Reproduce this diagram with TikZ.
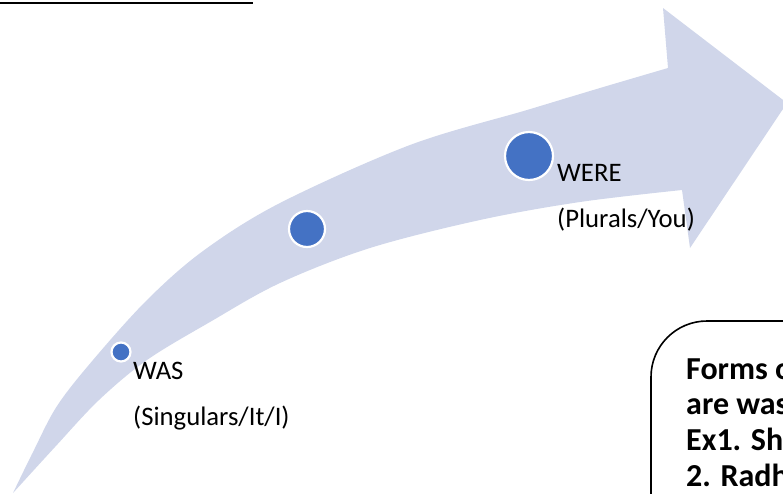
\documentclass[tikz,border=0pt]{standalone}
\usepackage{fontspec}
\setmainfont{Carlito}
\definecolor{bandfill}{HTML}{D0D6EA}
\definecolor{dotblue}{HTML}{4472C4}
\begin{document}
\begin{tikzpicture}[x=1pt,y=-1pt,
  dot/.style={circle,fill=dotblue,draw=white,line width=2.2pt,inner sep=0pt},
  label/.style={anchor=base west,inner sep=0pt,font=\fontsize{26.7}{30}\selectfont},
  boxtext/.style={anchor=base west,inner sep=0pt,font=\fontsize{32}{35}\selectfont\bfseries}]
\useasboundingbox (0,0) rectangle (783,493);
\clip (0,0) rectangle (783,493);

% underline of the heading above
\draw[line width=1.4pt] (0,3) -- (253,3);

% curved arrow
\fill[bandfill]
  plot[smooth,tension=0.55] coordinates {(13,493) (33,452) (57,406) (93,360) (147,300) (203,251) (280,203) (410,145) (527,110) (600,88) (668,68)}
  -- (663,8) -- (787,103) -- (690,248) -- (682,190)
  -- plot[smooth,tension=0.55] coordinates {(682,190) (580,202) (480,220) (370,248) (280,283) (210,322) (147,360) (99,400) (55,447) (13,493)}
  -- cycle;

% markers on the arrow
\node[dot,minimum size=19pt] (d1) at (121,352) {};
\node[dot,minimum size=36pt] (d2) at (307,229) {};
\node[dot,minimum size=48pt] (d3) at (529,156) {};

% labels
\node[label] (was) at (133,379) {WAS};
\node[label] (wassub) at (133,425) {(Singulars/It/I)};
\node[label] (were) at (557,181) {WERE};
\node[label] (weresub) at (557,227) {(Plurals/You)};

% note box
\draw[line width=1.6pt,rounded corners=56pt] (651,321) rectangle (900,600);
\node[boxtext] (l1) at (686,379) {Forms of};
\node[boxtext] (l2) at (686,414) {are was};
\node[boxtext] (l3) at (686,450) {Ex1. She};
\node[boxtext] (l4) at (686,486) {2. Radha};
\end{tikzpicture}
\end{document}
